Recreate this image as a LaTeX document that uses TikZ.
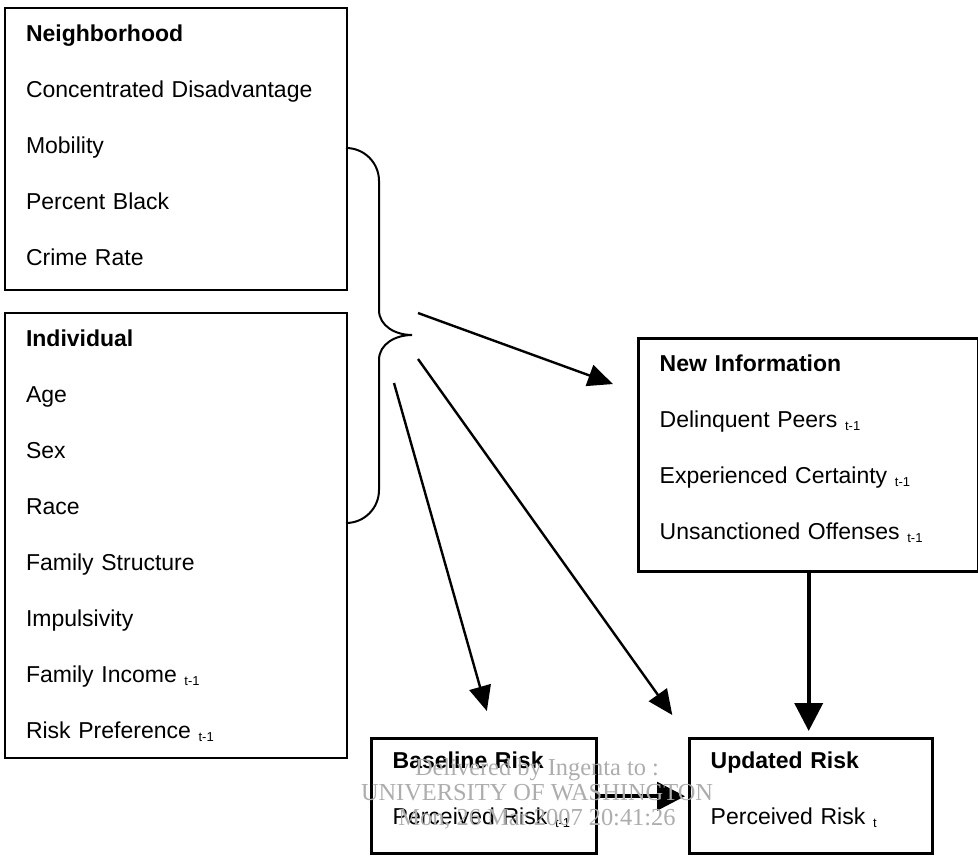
\documentclass[tikz,border=0pt]{standalone}
\usepackage{fontspec}
\setmainfont{Liberation Sans}
\newfontfamily\wmfont{Liberation Serif}
\usetikzlibrary{arrows.meta,calc}
\definecolor{wmgray}{gray}{0.68}

\newcommand{\lag}[1]{~{\fontsize{6.5pt}{6.5pt}\selectfont\raisebox{-0.4ex}{#1}}}

\begin{document}
\begin{tikzpicture}[x=0.5pt, y=-0.5pt,
	box/.style={draw, line width=1pt, anchor=north west, align=left, inner xsep=10.5pt, inner ysep=0pt, font=\fontsize{11.5pt}{28pt}\selectfont},
	thickbox/.style={box, line width=1.7pt},
	arr/.style={-{Triangle[length=12.5pt,width=11pt]}, line width=1.2pt},
	bigarr/.style={-{Triangle[length=14pt,width=14pt]}, line width=2pt}]

	\useasboundingbox (0,0) rectangle (978,856);

	\node[box, text width=150pt, minimum height=141pt](NB) at (4,7){\textbf{Neighborhood}\\ Concentrated Disadvantage\\ Mobility\\ Percent Black\\ Crime Rate\\[-24pt]\mbox{}};
	\node[box, text width=150pt, minimum height=222.5pt](IND) at (4,312){\textbf{Individual}\\ Age\\ Sex\\ Race\\ Family Structure\\ Impulsivity\\ Family Income\lag{t-1}\\ Risk Preference\lag{t-1}};

	\node[thickbox, text width=149pt, minimum height=116.5pt](NEW) at (637,337){\textbf{New Information}\\ Delinquent Peers\lag{t-1}\\ Experienced Certainty\lag{t-1}\\ Unsanctioned Offenses\lag{t-1}\\[-20pt]\mbox{}};
	\node[thickbox, text width=91.5pt, minimum height=57.5pt](BASE) at (370,737){\textbf{Baseline Risk}\\ Perceived Risk\lag{t-1}\\[-20pt]\mbox{}};
	\node[thickbox, text width=100.5pt, minimum height=57.5pt](UPD) at (688,737){\textbf{Updated Risk}\\ Perceived Risk\lag{t}\\[-20pt]\mbox{}};

	% brace
	\coordinate (TIP) at (412,335);
	\draw[line width=1pt] (346,148) to[out=0,in=90] (379,181) -- (379,310) to[out=-90,in=180] (TIP)
		to[out=180,in=90] (379,360) -- (379,490) to[out=-90,in=0] (346,523);

	\coordinate (S1) at (418,313);
	\coordinate (S2) at (418,359);
	\coordinate (S3) at (394,383);

	\draw[arr, shorten >=12.8pt] (S1) -- (NEW);
	\draw[arr, shorten >=13.5pt] (S2) -- (UPD.north west);
	\draw[arr, shorten >=13.5pt] (S3) -- ($(BASE.north)+(10,0)$);
	\draw[bigarr, shorten >=3pt] (NEW.south) -- (NEW.south |- UPD.north);
	\draw[bigarr, shorten >=1.5pt] (BASE) -- (UPD);

	\node[font=\wmfont\fontsize{12.2pt}{12.5pt}\selectfont, text=wmgray, align=center](WM) at (537,794){Delivered by Ingenta to :\\ UNIVERSITY OF WASHINGTON\\ Mon, 26 Mar 2007 20:41:26};
\end{tikzpicture}
\end{document}
